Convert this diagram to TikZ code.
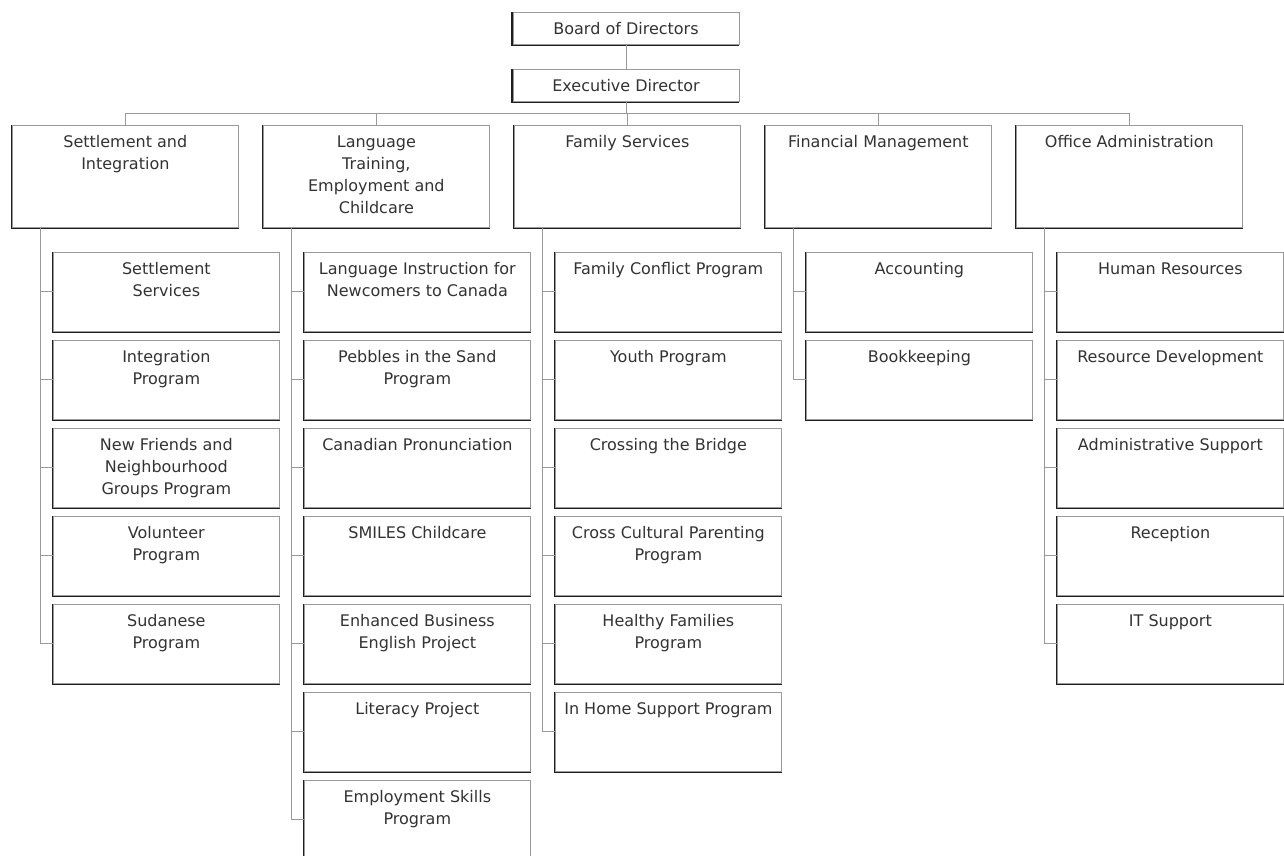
\documentclass[tikz,border=0pt]{standalone}
\usepackage{fontspec}
\setmainfont{DejaVu Sans}

\tikzset{
  unit/.style={draw=black!40, line width=0.7pt, fill=white, inner sep=0pt,
    minimum width=226pt, anchor=north west, text=black!80,
    font=\fontsize{16}{22}\selectfont,
    append after command={\pgfextra{\draw[black!88, line width=2.8pt]
      (\tikzlastnode.north west) -- (\tikzlastnode.south west)
      -- (\tikzlastnode.south east);}}},
  topbox/.style={unit, minimum height=32pt, anchor=north},
  dept/.style={unit, minimum height=102pt},
  prog/.style={unit, minimum height=79pt},
  heading/.style={label={[align=center, anchor=north, inner sep=0pt, yshift=-10.5pt,
    text=black!80, font=\fontsize{16}{22}\selectfont]north:#1}},
  link/.style={draw=black!40, line width=0.8pt}
}

\begin{document}
\begin{tikzpicture}[x=1pt, y=-1pt]
  \useasboundingbox (0,0) rectangle (1284,856);

  % top of the chart
  \node[topbox] (board) at (626,12) {Board of Directors};
  \node[topbox] (exec) at (626,69) {Executive Director};
  \draw[link] (board) -- (exec);

  % departments
  \node[dept, heading={Settlement and\\Integration}] (sett) at (12,125) {};
  \node[dept, heading={Language\\Training,\\Employment and\\Childcare}] (lang) at (263,125) {};
  \node[dept, heading={Family Services}] (fam) at (514,125) {};
  \node[dept, heading={Financial Management}] (fin) at (765,125) {};
  \node[dept, heading={Office Administration}] (off) at (1016,125) {};
  \foreach \d in {sett,lang,fam,fin,off}
    \draw[link] (exec.south) -- ++(0,12) -| (\d.north);

  % programs
  \foreach \lbl [count=\i] in {{Settlement\\Services}, {Integration\\Program},
      {New Friends and\\Neighbourhood\\Groups Program}, {Volunteer\\Program},
      {Sudanese\\Program}} {
    \node[prog, heading={\lbl}] (sett\i) at (53,164+88*\i) {};
    \draw[link] ([xshift=28pt]sett.south west) |- (sett\i.west);
  }
  \foreach \lbl [count=\i] in {{Language Instruction for\\Newcomers to Canada},
      {Pebbles in the Sand\\Program}, {Canadian Pronunciation}, {SMILES Childcare},
      {Enhanced Business\\English Project}, {Literacy Project},
      {Employment Skills\\Program}} {
    \node[prog, heading={\lbl}] (lang\i) at (304,164+88*\i) {};
    \draw[link] ([xshift=28pt]lang.south west) |- (lang\i.west);
  }
  \foreach \lbl [count=\i] in {{Family Conflict Program}, {Youth Program},
      {Crossing the Bridge}, {Cross Cultural Parenting\\Program},
      {Healthy Families\\Program}, {In Home Support Program}} {
    \node[prog, heading={\lbl}] (fam\i) at (555,164+88*\i) {};
    \draw[link] ([xshift=28pt]fam.south west) |- (fam\i.west);
  }
  \foreach \lbl [count=\i] in {{Accounting}, {Bookkeeping}} {
    \node[prog, heading={\lbl}] (fin\i) at (806,164+88*\i) {};
    \draw[link] ([xshift=28pt]fin.south west) |- (fin\i.west);
  }
  \foreach \lbl [count=\i] in {{Human Resources}, {Resource Development},
      {Administrative Support}, {Reception}, {IT Support}} {
    \node[prog, heading={\lbl}] (off\i) at (1057,164+88*\i) {};
    \draw[link] ([xshift=28pt]off.south west) |- (off\i.west);
  }
\end{tikzpicture}
\end{document}
